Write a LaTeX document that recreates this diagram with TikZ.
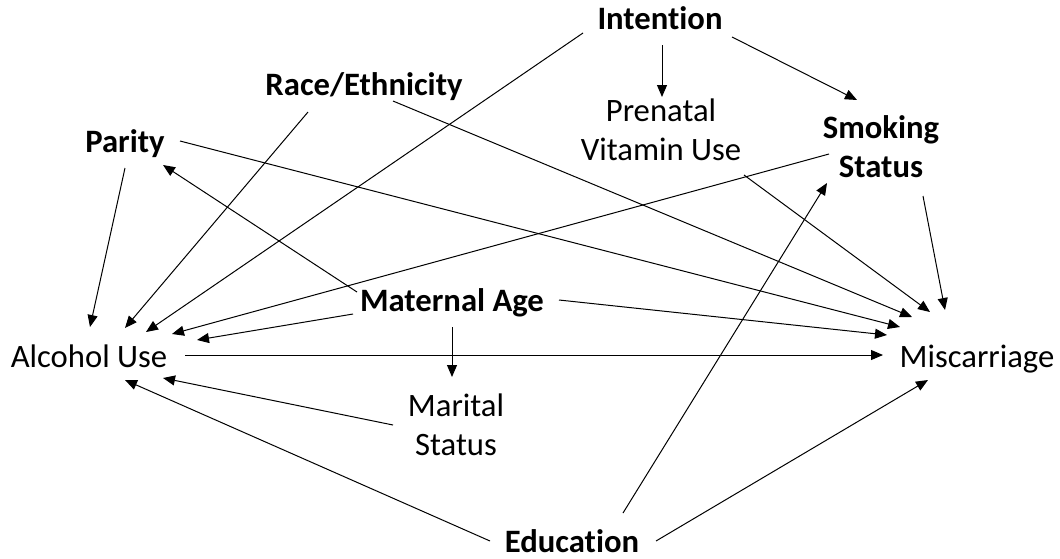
\documentclass[tikz,border=0pt]{standalone}
\usepackage{fontspec}
\setmainfont{Carlito}[Ligatures=NoCommon]
\usetikzlibrary{arrows.meta}
\tikzset{
  lbl/.style={inner sep=0pt, anchor=base, font=\fontsize{24.5pt}{29pt}\selectfont, align=center},
  blbl/.style={lbl, font=\fontsize{24.5pt}{29pt}\selectfont\bfseries},
  edge/.style={line width=0.75pt, -{Triangle[length=9pt,width=7.5pt]}}
}
\begin{document}
\begin{tikzpicture}[x=0.75pt,y=-0.75pt]
\useasboundingbox (0,0) rectangle (1060,558);
% nodes (multi-line nodes are placed at the baseline of their last line)
\node[blbl] (int) at (660,29) {Intention};
\node[lbl]  (pv)  at (661,160) {Prenatal\\Vitamin Use};
\node[blbl] (race) at (364,95) {Race/Ethnicity};
\node[blbl] (par) at (125,152) {Parity};
\node[blbl] (smk) at (881,177) {Smoking\\Status};
\node[blbl] (mat) at (452,311) {Maternal Age};
\node[lbl]  (alc) at (89,367) {Alcohol Use};
\node[lbl]  (mis) at (977,367) {Miscarriage};
\node[lbl]  (mar) at (456,455) {Marital\\Status};
\node[blbl] (edu) at (572,552) {Education};
% connector ends
\coordinate (int-a) at (583,33);  \coordinate (int-p) at (662,45);  \coordinate (int-s) at (732,37);
\coordinate (pv-in) at (662,97);  \coordinate (pv-m) at (744,175);
\coordinate (race-a) at (308,112); \coordinate (race-m) at (393,101);
\coordinate (par-a) at (125,168); \coordinate (par-m) at (180,141); \coordinate (par-in) at (163,165);
\coordinate (smk-a) at (829,154); \coordinate (smk-m) at (923,196); \coordinate (smk-ini) at (857,100); \coordinate (smk-ine) at (827,183);
\coordinate (mat-a) at (353,314); \coordinate (mat-p) at (357,292); \coordinate (mat-m) at (559,300); \coordinate (mat-r) at (452,327);
\coordinate (alc-p) at (90,327); \coordinate (alc-r) at (125,328); \coordinate (alc-i) at (146,332); \coordinate (alc-s) at (172,334);
\coordinate (alc-ma) at (197,340); \coordinate (alc-mr) at (163,378); \coordinate (alc-e) at (125,380); \coordinate (alc-out) at (185,355);
\coordinate (mis-a) at (883,355); \coordinate (mis-ma) at (887,335); \coordinate (mis-p) at (900,327); \coordinate (mis-r) at (912,317);
\coordinate (mis-pv) at (930,312); \coordinate (mis-s) at (945,310); \coordinate (mis-e) at (928,380);
\coordinate (mar-in) at (452,377); \coordinate (mar-a) at (393,425);
\coordinate (edu-a) at (490,541); \coordinate (edu-s) at (623,513); \coordinate (edu-m) at (656,541);
% connectors
\draw[edge] (int-a) -- (alc-i);
\draw[edge] (int-p) -- (pv-in);
\draw[edge] (int-s) -- (smk-ini);
\draw[edge] (pv-m) -- (mis-pv);
\draw[edge] (race-a) -- (alc-r);
\draw[edge] (race-m) -- (mis-r);
\draw[edge] (par-a) -- (alc-p);
\draw[edge] (par-m) -- (mis-p);
\draw[edge] (smk-a) -- (alc-s);
\draw[edge] (smk-m) -- (mis-s);
\draw[edge] (mat-a) -- (alc-ma);
\draw[edge] (mat-p) -- (par-in);
\draw[edge] (mat-m) -- (mis-ma);
\draw[edge] (mat-r) -- (mar-in);
\draw[edge] (alc-out) -- (mis-a);
\draw[edge] (mar-a) -- (alc-mr);
\draw[edge] (edu-a) -- (alc-e);
\draw[edge] (edu-s) -- (smk-ine);
\draw[edge] (edu-m) -- (mis-e);
\end{tikzpicture}
\end{document}
